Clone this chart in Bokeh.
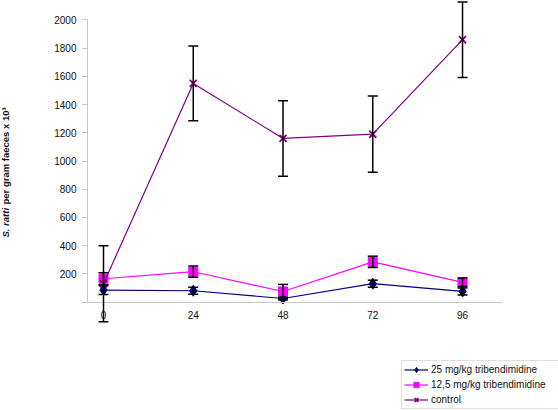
import math
from bokeh.plotting import figure
from bokeh.models import (Range1d, FixedTicker, ColumnDataSource, Whisker, TeeHead,
                          Legend, LegendItem, Label)
from bokeh.embed import file_html
from bokeh.resources import INLINE

# ---- data ----
hours = [0, 24, 48, 72, 96]
x_tick_labels = ["0", "24", "48", "72", "96"]
y_ticks = [0, 200, 400, 600, 800, 1000, 1200, 1400, 1600, 1800, 2000]

series_names = ["25 mg/kg tribendimidine", "12,5 mg/kg tribendimidine", "control"]
dose25 = [85, 80, 25, 130, 75]
dose25_err = [32, 25, 10, 25, 25]
dose12 = [165, 215, 75, 285, 140]
dose12_err = [42, 40, 50, 40, 30]
control = [130, 1550, 1160, 1190, 1860]
control_err = [270, 265, 268, 270, 268]

colors = ["#000080", "#FF00FF", "#800080"]
markers = ["diamond", "square", "x"]
marker_sizes = [11, 9, 10]

FONT = "Liberation Sans"
X_AXIS_START = -4.28
X_AXIS_END = 106.7

p = figure(width=558, height=410, output_backend="svg", toolbar_location=None,
           x_range=Range1d(-27.54, 121.66), y_range=Range1d(-769, 2138),
           min_border_left=0, min_border_right=0, min_border_top=0, min_border_bottom=0)
p.outline_line_color = None
p.grid.visible = False
p.background_fill_color = "white"
p.border_fill_color = "white"

axis_gray = "#c8c8c8"

# x axis at y = 0
xa = p.xaxis[0]
xa.fixed_location = 0
xa.ticker = FixedTicker(ticks=hours)
xa.major_label_overrides = {h: lbl for h, lbl in zip(hours, x_tick_labels)}
xa.bounds = (X_AXIS_START, X_AXIS_END)
xa.axis_line_color = axis_gray
xa.major_tick_line_color = None
xa.minor_tick_line_color = None
xa.major_tick_out = 0
xa.major_tick_in = 0
xa.major_label_standoff = 9
xa.major_label_text_font = FONT
xa.major_label_text_font_size = "10px"
xa.major_label_text_color = "#111111"

# y axis at the left end of the x axis
ya = p.yaxis[0]
ya.fixed_location = X_AXIS_START
ya.ticker = FixedTicker(ticks=y_ticks)
ya.major_label_overrides = {0: ""}
ya.bounds = (0, 2000)
ya.axis_line_color = axis_gray
ya.major_tick_line_color = axis_gray
ya.minor_tick_line_color = None
ya.major_tick_out = 5
ya.major_tick_in = 0
ya.major_label_standoff = 6
ya.major_label_text_font = FONT
ya.major_label_text_font_size = "10px"
ya.major_label_text_color = "#111111"

legend_items = []
for name, vals, errs, col, mk, ms in zip(series_names, [dose25, dose12, control],
                                         [dose25_err, dose12_err, control_err],
                                         colors, markers, marker_sizes):
    src = ColumnDataSource(dict(x=hours, y=vals,
                                upper=[v + e for v, e in zip(vals, errs)],
                                lower=[v - e for v, e in zip(vals, errs)]))
    lr = p.line("x", "y", source=src, line_color=col, line_width=1.2)
    if mk == "x":
        sr = p.scatter("x", "y", source=src, marker=mk, size=ms, line_color=col,
                       line_width=1.8)
    else:
        sr = p.scatter("x", "y", source=src, marker=mk, size=ms, fill_color=col,
                       line_color=col)
    w = Whisker(source=src, base="x", upper="upper", lower="lower",
                line_color="black", line_width=1.5, level="annotation",
                upper_head=TeeHead(size=10, line_color="black", line_width=1.5),
                lower_head=TeeHead(size=10, line_color="black", line_width=1.5))
    p.add_layout(w)
    legend_items.append(LegendItem(label=name, renderers=[lr, sr]))

legend = Legend(items=legend_items, location=(401, 1),
                label_text_font=FONT, label_text_font_size="10px",
                label_text_color="#111111",
                glyph_width=24, glyph_height=13, label_height=13, label_width=126,
                label_standoff=3, padding=2, spacing=2, margin=0,
                border_line_color="#c0c0c0", border_line_width=1,
                background_fill_color="white", background_fill_alpha=1.0)
p.add_layout(legend)

# y axis title in two parts (italic species name)
lab1 = Label(x=5, y=173, x_units="screen", y_units="screen", text="S. ratti",
             angle=math.pi / 2, text_align="left", text_baseline="middle",
             text_font=FONT, text_font_style="bold italic", text_font_size="9.5px",
             text_color="#111111")
lab2 = Label(x=5, y=206, x_units="screen", y_units="screen",
             text="per gram faeces x 10\u00b3",
             angle=math.pi / 2, text_align="left", text_baseline="middle",
             text_font=FONT, text_font_style="bold", text_font_size="9.5px",
             text_color="#111111")
p.add_layout(lab1)
p.add_layout(lab2)

open("out.html", "w").write(file_html(p, INLINE))
